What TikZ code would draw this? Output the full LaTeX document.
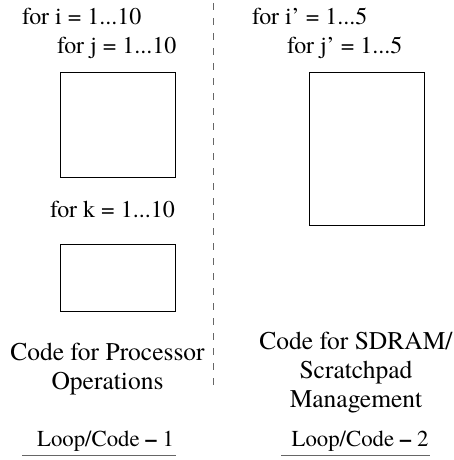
\documentclass[tikz,border=0pt]{standalone}
\usepackage{fontspec}
\setmainfont{TeX Gyre Termes}
\begin{document}
\begin{tikzpicture}[x=1pt,y=-1pt,
  looptext/.style={anchor=base west,inner sep=0pt,font=\rmfamily\fontsize{24}{27}\selectfont},
  codetext/.style={align=center,inner sep=0pt,font=\rmfamily\fontsize{25.5}{29}\selectfont},
  captext/.style={anchor=base,inner sep=0pt,font=\rmfamily\fontsize{22.8}{26}\selectfont},
  blockbox/.style={draw,line width=0.8pt,inner sep=0pt},
  divider/.style={draw=black!60,line width=0.9pt,dash pattern=on 7pt off 8pt},
  baseline rule/.style={draw=black!60,line width=1pt}]
\useasboundingbox (0,0) rectangle (453,460);

% left column: processor loop nest
\node[looptext] (fi) at (22,25) {for i = 1...10};
\node[looptext] (fj) at (57,53) {for j = 1...10};
\node[blockbox,minimum width=115pt,minimum height=105pt] (b1) at (117.5,124.5) {};
\node[looptext] (fk) at (50,217) {for k = 1...10};
\node[blockbox,minimum width=115pt,minimum height=67pt] (b2) at (117.5,277.5) {};
\node[codetext] (c1) at (107.5,369) {Code for Processor\\Operations};

% right column: memory management loop nest
\node[looptext] (fi2) at (252,25) {for i’ = 1...5};
\node[looptext] (fj2) at (287,53) {for j’ = 1...5};
\node[blockbox,minimum width=115pt,minimum height=153pt] (b3) at (366.5,148.5) {};
\node[codetext] (c2) at (356,373) {Code for SDRAM/\\Scratchpad\\Management};

% separator
\coordinate (dtop) at (213,3);
\coordinate (dbot) at (213,388);
\draw[divider] (dtop) -- (dbot);

% captions with rules
\node[captext] (l1) at (105.5,446) {Loop/Code {\bfseries –} 1};
\node[captext] (l2) at (360,446) {Loop/Code {\bfseries –} 2};
\coordinate (r1a) at (22,455.5);
\coordinate (r1b) at (176,455.5);
\coordinate (r2a) at (281,455.5);
\coordinate (r2b) at (430,455.5);
\draw[baseline rule] (r1a) -- (r1b);
\draw[baseline rule] (r2a) -- (r2b);
\end{tikzpicture}
\end{document}
